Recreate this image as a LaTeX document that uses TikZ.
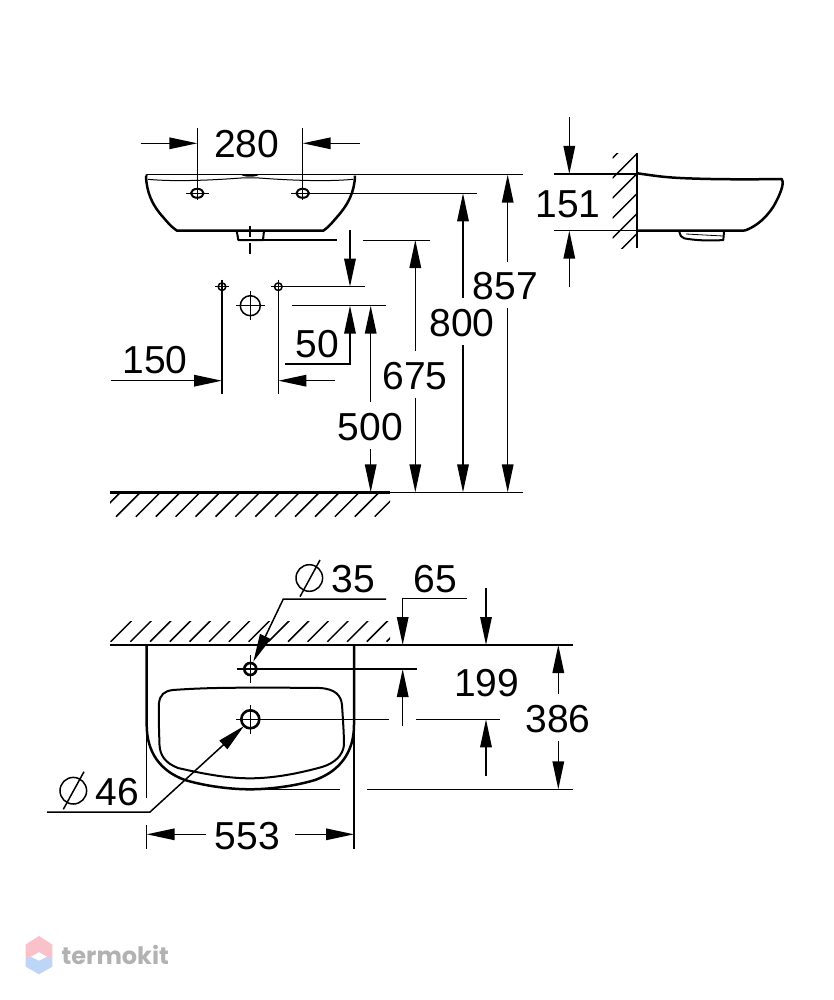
\documentclass[tikz,border=0pt]{standalone}
\usepackage{fontspec}
\setmainfont{Liberation Sans}
\newfontfamily\wmfont{Poppins}
\usetikzlibrary{arrows.meta}
\definecolor{wmpink}{HTML}{F9C2CA}
\definecolor{wmblue}{HTML}{BDD5F6}
\definecolor{wmtext}{HTML}{B2B2B2}
\tikzset{
  thin line/.style={line width=1.5pt,line cap=butt,draw=black},
  thick line/.style={line width=2.5pt,line join=round,draw=black},
  med line/.style={line width=2pt,line join=round,draw=black},
  tip/.style={-{Triangle[length=28pt,width=11.5pt]}},
  dim/.style={font=\fontsize{39}{39}\selectfont,inner sep=0pt,text=black},
  hatch/.style={line width=1.5pt,draw=black},
}
\begin{document}
\begin{tikzpicture}[x=1pt,y=-1pt]
\useasboundingbox (0,0) rectangle (834,1000);
\fill[white] (0,0) rectangle (834,1000);

% ---- front elevation
\draw[thick line] (146,175.7) .. controls (146.5,192) and (152,205) .. (163,217) .. controls (168,223) and (172,227.5) .. (177,230.7) -- (323.3,230.7) .. controls (328,227.5) and (332,223) .. (337,217) .. controls (348,205) and (354.5,192) .. (355,175.7);
\draw[med line] (146,175.7) -- (147,174.7);
\draw[thin line] (147,174.7) -- (522.7,174.7);
\draw[line width=1pt] (148,179.3) .. controls (175,182) and (215,180) .. (241,178) -- (259,178) .. controls (285,180) and (325,182) .. (353,179.3);
\fill[black] (241,174.5) -- (259,174.5) .. controls (257,177.5) and (243,177.5) .. (241,174.5) -- cycle;
\draw[med line] (236.7,230.7) -- (238.3,240) -- (263,240) -- (264,230.7);
\draw[thin line] (263,240) -- (336.7,240);
\draw[thin line] (363.3,240.3) -- (430,240.3);
\draw[thin line] (250,226) -- (250,237);
\draw[thin line] (250,242.7) -- (250,254);
% mounting holes
\foreach \hx in {197.3,302.7}{
  \draw[med line] (\hx,193.3) ellipse[x radius=6.3,y radius=4.5];
  \draw[thin line] (\hx-11.5,193.3) -- (\hx+11.5,193.3);
  \draw[thin line] (\hx,128) -- (\hx,200);
}
\draw[thin line] (302.7,193.3) -- (477.3,193.3);
\draw[thin line,tip] (140.7,143.3) -- (197.3,143.3);
\draw[thin line,tip] (360,143.3) -- (302.7,143.3);
\node[dim] (t280) at (246.7,144.5) {280};

% ---- wall fixing points
\foreach \hx in {222,278.3}{
  \draw[thin line] (\hx,286.7) circle[radius=3.8];
  \draw[thin line] (\hx-7,286.7) -- (\hx+7,286.7);
  \draw[thin line] (\hx,279.7) -- (\hx,394.3);
}
\draw[thin line] (250.3,305.7) circle[radius=10];
\draw[thin line] (236,305.7) -- (264.6,305.7);
\draw[thin line] (250.3,291.4) -- (250.3,320);
\draw[thin line] (278.3,286.7) -- (365,286.7);
\draw[thin line] (291.6,305.7) -- (385.7,305.7);
\draw[thin line,tip] (350,230) -- (350,286.7);
\draw[thin line,tip] (285,364) -- (350,364) -- (350,305.7);
\draw[thin line,tip] (110.7,380.7) -- (222,380.7);
\draw[thin line,tip] (335,380.7) -- (278.3,380.7);
\node[dim] (t150) at (155,360.5) {150};
\node[dim] (t50) at (317.5,344) {50};

% ---- height dimensions
\draw[thin line,tip] (370.7,402.3) -- (370.7,305.7);
\draw[thin line,tip] (370.7,449) -- (370.7,492.3);
\node[dim] (t500) at (370.3,427) {500};
\draw[thin line,tip] (415.3,351) -- (415.3,240);
\draw[thin line,tip] (415.3,397.7) -- (415.3,492.3);
\node[dim] (t675) at (415,375.7) {675};
\draw[thin line,tip] (463,298) -- (463,193.3);
\draw[thin line,tip] (463,345) -- (463,492.3);
\node[dim] (t800) at (462,323.5) {800};
\draw[thin line,tip] (507.7,261.7) -- (507.7,174.7);
\draw[thin line,tip] (507.7,308) -- (507.7,492.3);
\node[dim] (t857) at (505.5,286) {857};

% ---- floor
\draw[thick line] (110,492.3) -- (390,492.3);
\draw[thin line] (390,492.3) -- (522.7,492.3);
\begin{scope}
  \clip (110,493) rectangle (390,517);
  \foreach \k in {-1,...,13}{
    \draw[hatch] (116+19.9*\k,516.7) -- ++(24,-24);
  }
\end{scope}

% ---- side elevation
\draw[med line] (637.3,153.3) -- (637.3,248.3);
\begin{scope}
  \clip (612.7,153.3) rectangle (637.3,248.3);
  \foreach \k in {-1,...,4}{
    \draw[hatch] (637.3,153.3+20*\k) -- ++(-25,25);
  }
\end{scope}
\draw[thin line] (554,174) -- (637.3,174);
\draw[thin line] (554,230.7) -- (637.3,230.7);
\draw[thick line] (637.3,173.3) .. controls (650,175) and (660,177) .. (680,178) .. controls (710,179.5) and (750,179.5) .. (781.7,179) .. controls (784,181) and (783,190) .. (773.3,206.7) .. controls (766,218) and (757,225) .. (750,228.3) .. controls (747,230) and (745,230.7) .. (743,230.7) -- (637.3,230.7);
\draw[med line] (679.3,231.7) .. controls (680,235) and (681,237.5) .. (684,238.3) .. controls (695,240.5) and (712,241) .. (723.3,240) -- (724,231.7);
\draw[line width=.8pt] (686,234) -- (723,236);
\draw[thin line,tip] (569.3,117.3) -- (569.3,174);
\draw[thin line,tip] (569.3,287.3) -- (569.3,230.7);
\node[dim] (t151) at (568,204) {151};

% ---- plan
\begin{scope}
  \clip (110,621.5) rectangle (390,644);
  \foreach \k in {0,...,14}{
    \draw[hatch] (110.7+19.7*\k,641.7) -- ++(21,-21);
  }
\end{scope}
\draw[thick line] (110,645) -- (390,645);
\draw[thin line] (390,645) -- (573,645);
\draw[thick line] (146.7,645) -- (146.7,725) .. controls (146.7,752) and (160,771) .. (185,780) .. controls (205,786) and (230,789.3) .. (250,789.3) .. controls (270,789.3) and (295,786) .. (315,780) .. controls (340,771) and (354,752) .. (354,725) -- (354,645);
\draw[thin line] (146.7,725) -- (146.7,798);
\draw[thin line] (146.7,825) -- (146.7,849);
\draw[thin line] (354,725) -- (354,849);
\draw[med line] (173,690) .. controls (200,688) and (225,687.7) .. (250,687.7) .. controls (280,687.7) and (300,687.7) .. (320,688) .. controls (335,689) and (341,695) .. (342,705) .. controls (343,720) and (344,735) .. (344,745) .. controls (343,755) and (335,763) .. (322,767) .. controls (300,773) and (275,778.3) .. (250,778.3) .. controls (225,778.3) and (200,773) .. (178,768) .. controls (165,763) and (160,755) .. (159.5,745) .. controls (159,730) and (158.5,715) .. (159,703) .. controls (160,695) and (164,691) .. (173,690) -- cycle;
% holes
\draw[line width=2.6pt] (250.3,669) circle[radius=6];
\draw[thin line] (236.7,669) -- (417,669);
\draw[thin line] (250.3,655) -- (250.3,683);
\draw[line width=2.6pt] (250.3,719.3) circle[radius=9];
\draw[thin line] (236,719.3) -- (389,719.3);
\draw[thin line] (250.3,705) -- (250.3,733.6);
\draw[thin line] (416,719.3) -- (500,719.3);
\draw[thin line] (250,789.3) -- (340,789.3);
\draw[thin line] (367,789.3) -- (573,789.3);

% 35 leader
\draw[thin line,tip] (386,599) -- (283.3,599) -- (253.3,661.7);
\draw[thin line] (309.3,578) circle[radius=13.3];
\draw[thin line] (320,560) -- (300,596.7);
\node[dim] (t35) at (353,578.7) {35};
% 46 leader
\draw[thin line,tip] (47,812) -- (150,812) -- (244,726);
\draw[thin line] (73.3,790.7) circle[radius=13.3];
\draw[thin line] (84,771.7) -- (63.3,809.3);
\node[dim] (t46) at (117.5,792) {46};
% 553
\draw[thin line,tip] (205.7,834.3) -- (146.7,834.3);
\draw[thin line,tip] (295,834.3) -- (354,834.3);
\node[dim] (t553) at (247.3,836) {553};
% 65
\draw[thin line,tip] (467,598.7) -- (402.7,598.7) -- (402.7,645);
\draw[thin line,tip] (486,588) -- (486,645);
\node[dim] (t65) at (435,578.7) {65};
% 199
\draw[thin line,tip] (402.7,725.6) -- (402.7,669);
\draw[thin line,tip] (486,776) -- (486,719.3);
\node[dim] (t199) at (486.7,683) {199};
% 386
\draw[thin line,tip] (558.3,694) -- (558.3,645);
\draw[thin line,tip] (558.3,741) -- (558.3,789.3);
\node[dim] (t386) at (558,719) {386};

% ---- watermark
\fill[wmpink] (39,936) -- (52.3,944.5) -- (52.3,958) -- (25.7,958) -- (25.7,944.5) -- cycle;
\fill[wmblue] (52.3,958) -- (52.3,966.7) -- (39,974.3) -- (25.7,966.7) -- (25.7,958) -- cycle;
\fill[white] (39,952.3) -- (46.7,956.7) -- (39,960.7) -- (31,956.7) -- cycle;
\node[inner sep=0pt,text=wmtext,font=\wmfont\bfseries\fontsize{24}{24}\selectfont] (wm) at (115.3,954.5) {termokit};
\end{tikzpicture}
\end{document}
